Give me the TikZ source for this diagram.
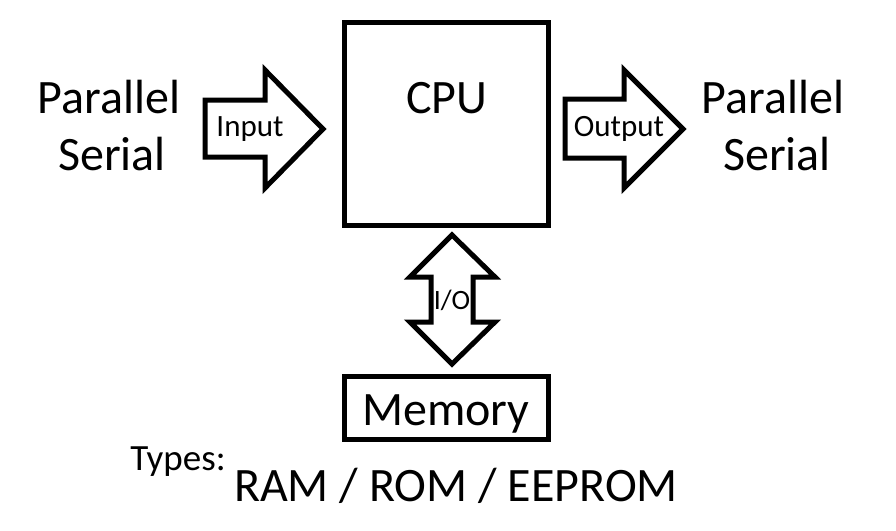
\documentclass[tikz,border=0pt]{standalone}
\usepackage{fontspec}
\setmainfont{Carlito}
\begin{document}
\begin{tikzpicture}[x=1pt,y=-1pt,
  box/.style={draw=black,line width=5pt},
  fatarrow/.style={draw=black,line width=5pt,line join=miter,fill=white},
  big/.style={font=\fontsize{48}{56}\selectfont,inner sep=0pt,anchor=base},
  small/.style={font=\fontsize{31}{36}\selectfont,inner sep=0pt},
  ]
\useasboundingbox (0,0) rectangle (896,530);
% CPU
\draw[box] (344,22) rectangle (548,225);
\node[big] (cpu) at (447,113) {CPU};
% Memory
\draw[box] (344,376) rectangle (548,439);
\node[big] (mem) at (446,425) {Memory};
% Input arrow
\draw[fatarrow] (205,100) -- (265,100) -- (265,70) -- (323,129) -- (265,188) -- (265,157) -- (205,157) -- cycle;
\node[small] (in) at (250,129) {Input};
% Output arrow
\draw[fatarrow] (565,99) -- (624,99) -- (624,70) -- (683,129) -- (624,188) -- (624,158) -- (565,158) -- cycle;
\node[small] (out) at (619,129) {Output};
% I/O arrow
\draw[fatarrow] (452,235) -- (495,277) -- (473,277) -- (473,322) -- (495,322) -- (452,364) -- (410,322) -- (431,322) -- (431,277) -- (410,277) -- cycle;
\node[small,font=\fontsize{28}{34}\selectfont] (io) at (452,300) {I/O};
% Side texts
\node[big] (lp) at (109,113) {Parallel};
\node[big] (ls) at (112,170) {Serial};
\node[big] (rp) at (773,113) {Parallel};
\node[big] (rs) at (777,170) {Serial};
% Types
\node[font=\fontsize{37}{44}\selectfont,inner sep=0pt,anchor=base] (types) at (178,470) {Types:};
\node[font=\fontsize{48}{58}\selectfont,inner sep=0pt,anchor=base] (ram) at (456,501) {RAM / ROM / EEPROM};
\end{tikzpicture}
\end{document}
